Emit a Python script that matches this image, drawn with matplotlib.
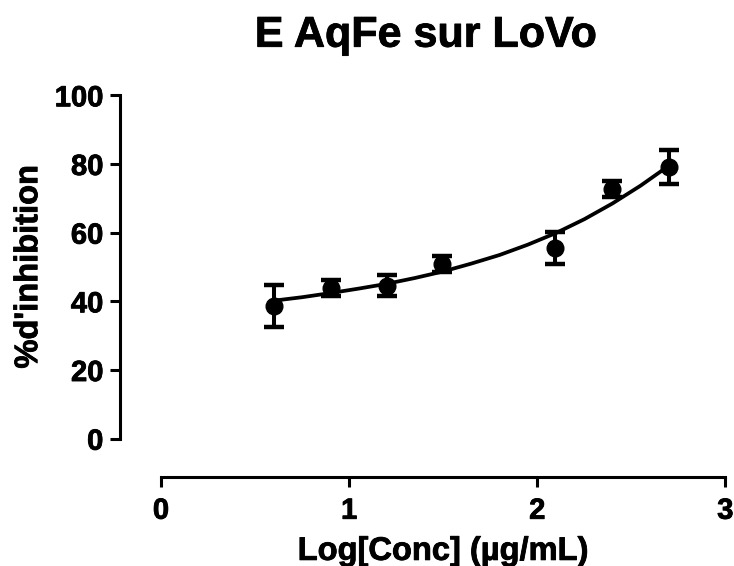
import matplotlib
matplotlib.use('Agg')
import matplotlib.pyplot as plt
import matplotlib.patheffects as pe

# ---- data ----
log_conc = [0.602, 0.903, 1.204, 1.495, 2.097, 2.398, 2.699]
inhibition = [38.6, 44.0, 44.5, 50.8, 55.5, 72.65, 79.2]
sem = [6.2, 2.35, 3.05, 2.3, 4.6, 2.25, 5.0]

# fitted curve
fit_x = [0.6, 0.75, 0.9, 1.05, 1.2, 1.35, 1.5, 1.65, 1.8, 1.95, 2.1, 2.25, 2.4, 2.55, 2.7]
fit_y = [40.2, 41.2, 42.4, 43.7, 45.1, 46.8, 48.7, 51.0, 53.5, 56.5, 59.9, 63.9, 68.5, 73.7, 79.5]

x_ticks = [0, 1, 2, 3]
y_ticks = [0, 20, 40, 60, 80, 100]

title = "E AqFe sur LoVo"
x_label = "Log[Conc] (µg/mL)"
y_label = "%d'inhibition"

plt.rcParams['font.family'] = ['Liberation Sans', 'DejaVu Sans']
plt.rcParams['font.weight'] = 'bold'

W, H = 734, 566
fig = plt.figure(figsize=(W / 100, H / 100), dpi=100)
ax = fig.add_axes([161 / W, 127.3 / H, 564.3 / W, 343.4 / H])

ax.plot(fit_x, fit_y, color='black', lw=2.7, solid_capstyle='round', zorder=2)
ax.errorbar(log_conc, inhibition, yerr=sem, fmt='o', color='black', ms=12,
            elinewidth=2.9, capsize=7, capthick=3.2, zorder=3, clip_on=False)

ax.set_xlim(0, 3)
ax.set_ylim(0, 100)
ax.set_xticks(x_ticks)
ax.set_yticks(y_ticks)
ax.set_xticklabels([str(t) for t in x_ticks])
ax.set_yticklabels([str(t) for t in y_ticks])

for s in ['top', 'right']:
    ax.spines[s].set_visible(False)
for s in ['left', 'bottom']:
    ax.spines[s].set_linewidth(2.2)
    ax.spines[s].set_capstyle('projecting')
ax.spines['left'].set_position(('outward', 29.5))
ax.spines['bottom'].set_position(('outward', 27.8))

ax.tick_params(axis='both', width=2.2, length=7, labelsize=21, colors='black')
ax.tick_params(axis='y', pad=5)
ax.tick_params(axis='x', pad=7)

thick = [pe.withStroke(linewidth=0.6, foreground='black')]
for lab in ax.get_xticklabels() + ax.get_yticklabels():
    lab.set_fontweight('bold')
    lab.set_path_effects(thick)

ax.set_xlabel(x_label, fontsize=23.5, fontweight='bold', path_effects=thick)
ax.set_ylabel(y_label, fontsize=23.5, fontweight='bold', path_effects=thick)
ax.xaxis.set_label_coords(0.5, -0.283)
ax.yaxis.set_label_coords(-0.207, 0.5)

fig.text(425.5 / W, (H - 46.7) / H, title, fontsize=31, fontweight='bold',
         ha='center', va='baseline', path_effects=thick)

fig.savefig('out.png', dpi=100)
